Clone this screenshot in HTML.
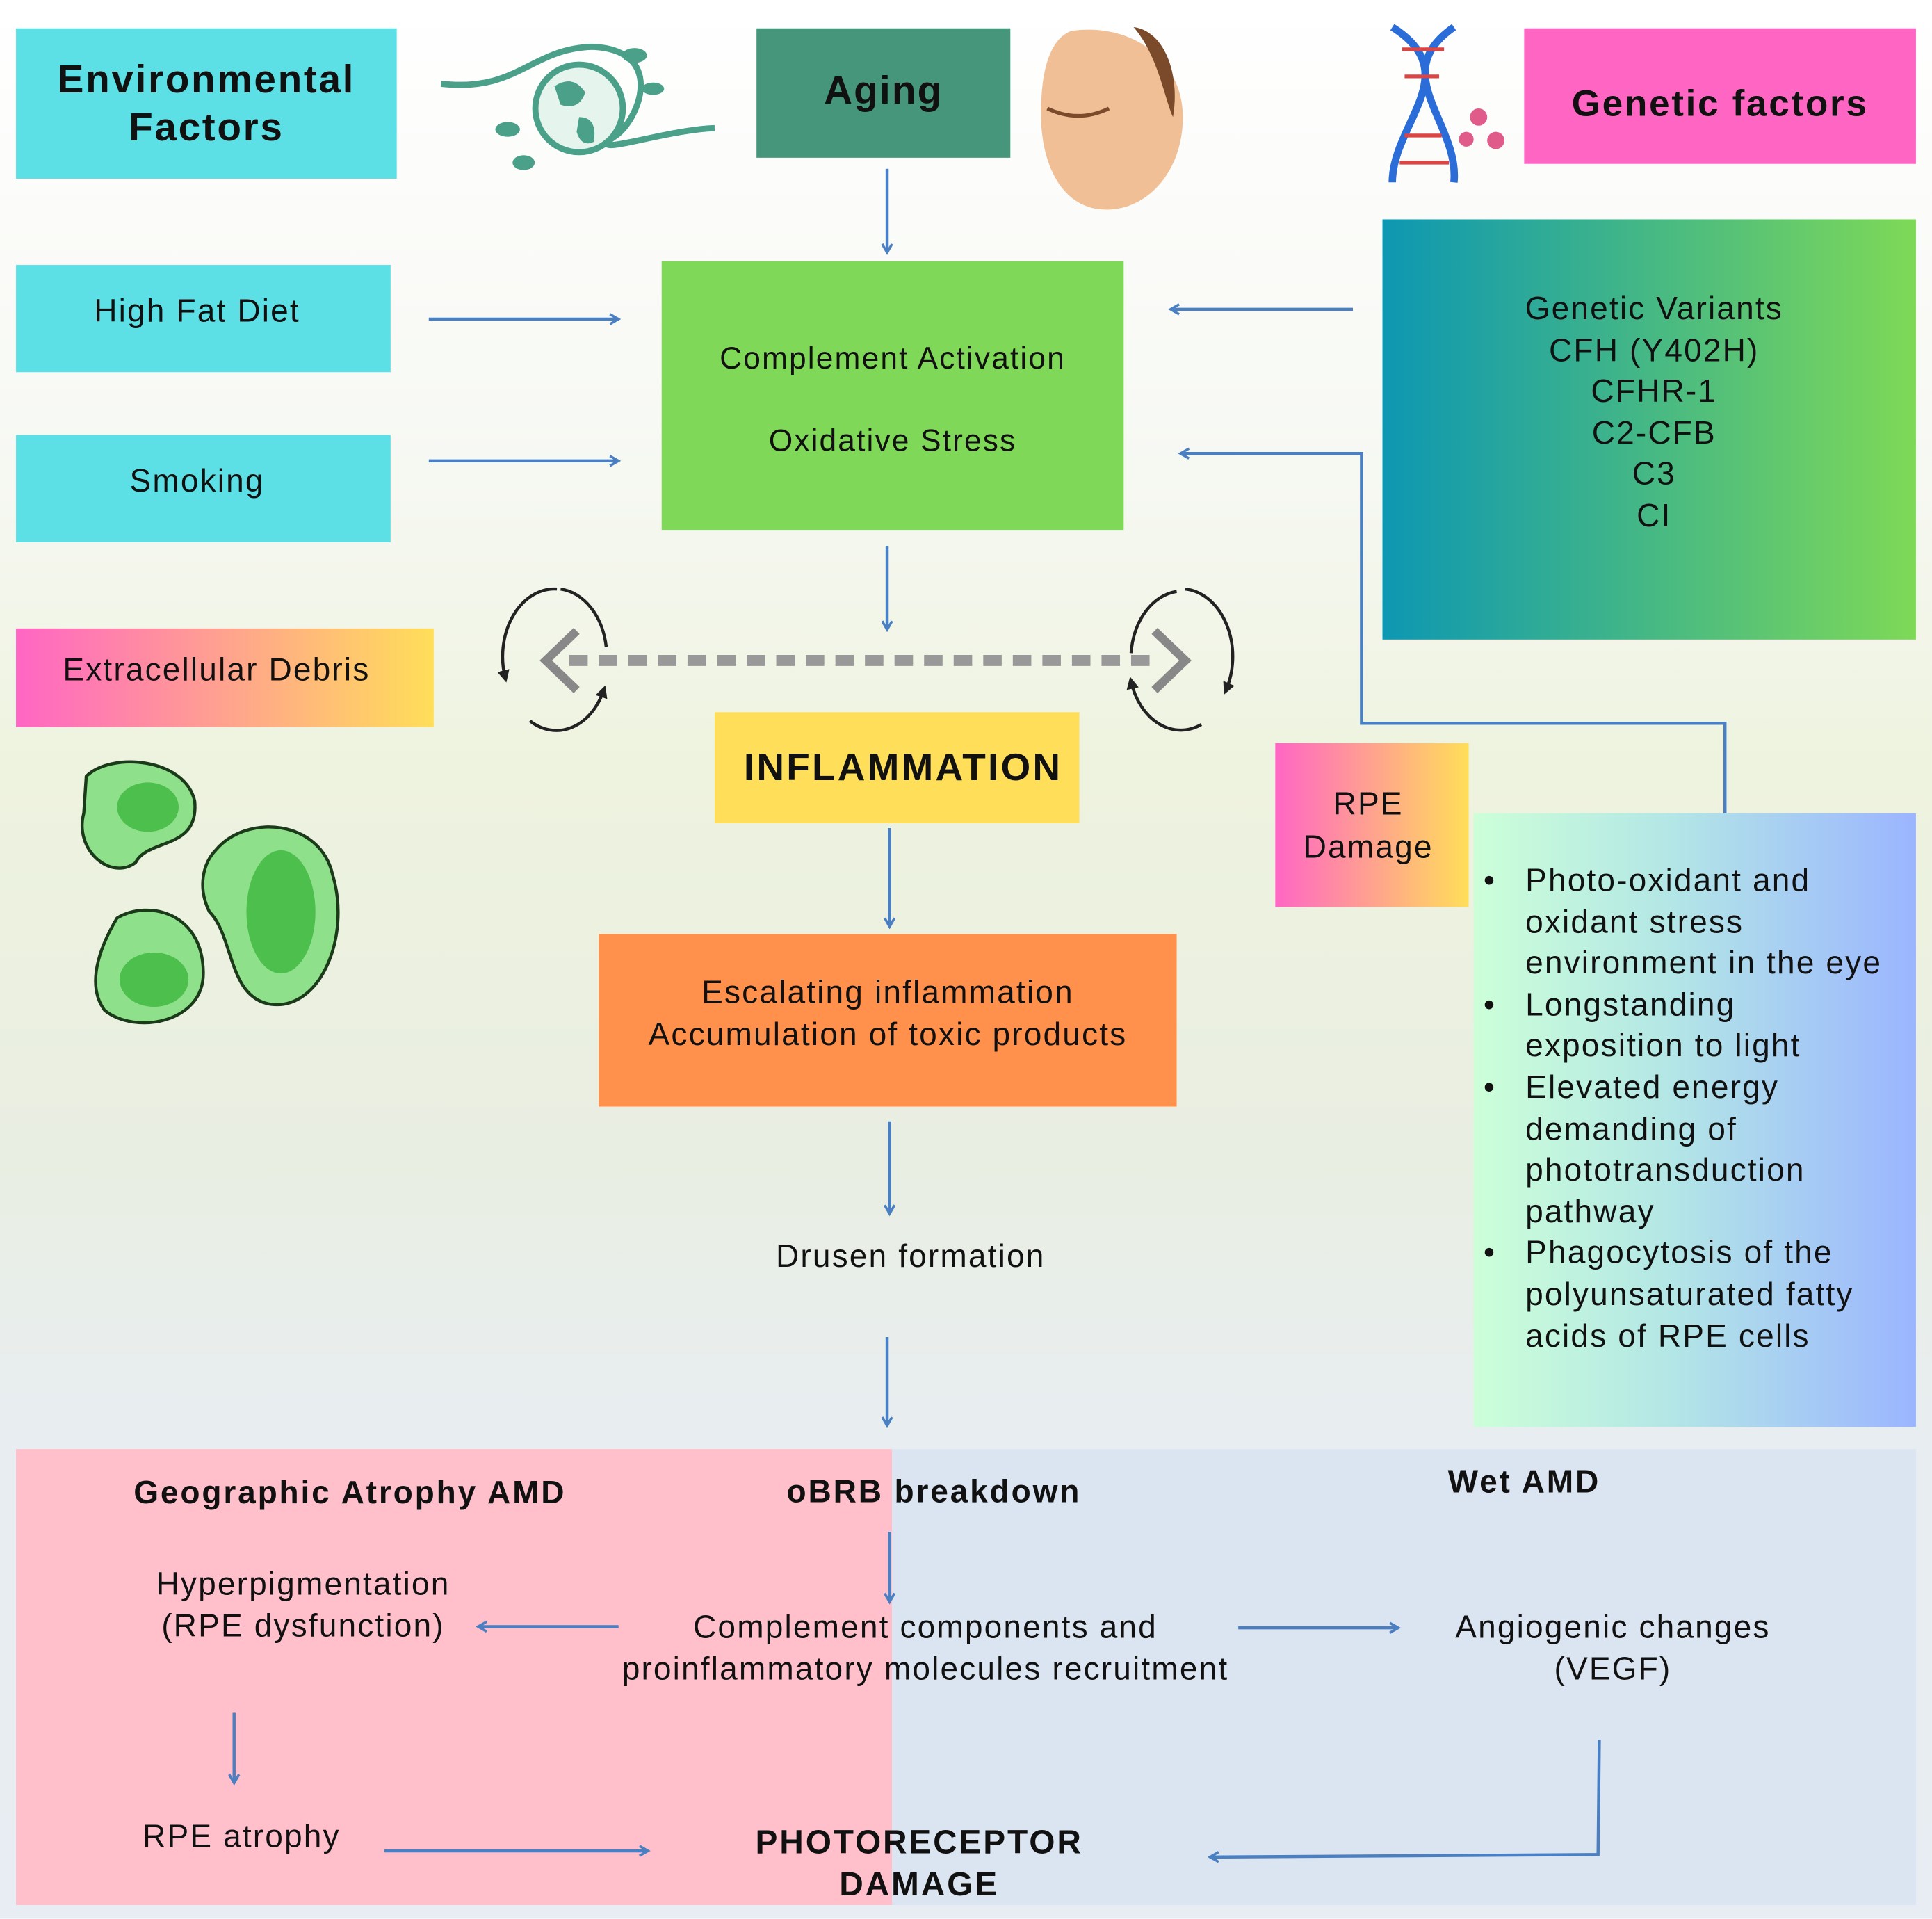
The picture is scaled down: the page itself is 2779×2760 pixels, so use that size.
<!DOCTYPE html>
<html><head><meta charset="utf-8"><style>
html,body{margin:0;padding:0;width:2779px;height:2760px;overflow:hidden;background:#fff}
#w{position:absolute;left:0;top:0;width:1568px;height:1557px;transform:scale(1.7723);transform-origin:0 0;
background:linear-gradient(180deg,#ffffff 0%,#f6f8f2 25%,#eef3df 40%,#e9eee2 60%,#e8edf1 75%,#e8edf3 100%);
font-family:"Liberation Sans",Arial,sans-serif;color:#111;letter-spacing:1.2px}
.b{position:absolute;display:flex;align-items:center;justify-content:center;text-align:center;box-sizing:border-box}
.t{position:absolute;text-align:center;white-space:nowrap;transform:translateX(-50%)}
.bd{font-weight:bold;letter-spacing:1.6px}
svg{position:absolute;left:0;top:0}
</style></head><body><div id="w">
<div style="position:absolute;left:13px;top:1176px;width:711px;height:370px;background:#ffbfcb"></div>
<div style="position:absolute;left:724px;top:1176px;width:831px;height:370px;background:#dbe4f1"></div>

<div class="b" style="left:13px;top:23px;width:309px;height:122px;background:#5ce0e6;font-weight:bold;font-size:32px;line-height:39px;letter-spacing:1.5px">Environmental<br>Factors</div>
<div class="b" style="left:614px;top:23px;width:206px;height:105px;background:#45967a;font-weight:bold;font-size:32px;padding-bottom:4px">Aging</div>
<div class="b" style="left:1237px;top:23px;width:318px;height:110px;background:#ff66c4;font-weight:bold;font-size:30px;padding-top:14px;letter-spacing:1.5px">Genetic factors</div>
<div class="b" style="left:13px;top:215px;width:304px;height:87px;background:#5ce0e6;font-size:26px;align-items:flex-start;padding-top:22px;padding-right:10px">High Fat Diet</div>
<div class="b" style="left:13px;top:353px;width:304px;height:87px;background:#5ce0e6;font-size:26px;align-items:flex-start;padding-top:22px;padding-right:10px">Smoking</div>
<div class="b" style="left:537px;top:212px;width:375px;height:218px;background:#80d858;font-size:25px;line-height:67px;padding-top:8px">Complement Activation<br>Oxidative Stress</div>
<div class="b" style="left:1122px;top:178px;width:433px;height:341px;background:linear-gradient(90deg,#0d97b2,#7ed957);font-size:26px;line-height:33.5px;align-items:flex-start;padding-top:56px;padding-left:8px">Genetic Variants<br>CFH (Y402H)<br>CFHR-1<br>C2-CFB<br>C3<br>CI</div>
<div class="b" style="left:13px;top:510px;width:339px;height:80px;background:linear-gradient(90deg,#ff66c4,#ffde59);font-size:26px;justify-content:flex-start;padding-left:38px;align-items:flex-start;padding-top:18px">Extracellular Debris</div>
<div class="b" style="left:580px;top:578px;width:296px;height:90px;background:#ffde59;font-weight:bold;font-size:31px;letter-spacing:1.8px;padding-left:10px">INFLAMMATION</div>
<div class="b" style="left:1035px;top:603px;width:157px;height:133px;background:linear-gradient(90deg,#ff66c4,#ffde59);font-size:26px;line-height:35px;padding-right:6px">RPE<br>Damage</div>
<div class="b" style="left:486px;top:758px;width:469px;height:140px;background:#ff914d;font-size:26px;line-height:34px;align-items:flex-start;padding-top:30px">Escalating inflammation<br>Accumulation of toxic products</div>
<div class="b" style="left:1196px;top:660px;width:359px;height:498px;background:linear-gradient(90deg,#ccffd8,#b3e6e6 45%,#9bb5ff);"></div>
<div style="position:absolute;left:1204px;top:698px;width:360px;font-size:26px;line-height:33.6px;white-space:nowrap">
<div style="position:relative;padding-left:34px"><span style="position:absolute;left:0">•</span>Photo-oxidant and<br>oxidant stress<br>environment in the eye</div>
<div style="position:relative;padding-left:34px"><span style="position:absolute;left:0">•</span>Longstanding<br>exposition to light</div>
<div style="position:relative;padding-left:34px"><span style="position:absolute;left:0">•</span>Elevated energy<br>demanding of<br>phototransduction<br>pathway</div>
<div style="position:relative;padding-left:34px"><span style="position:absolute;left:0">•</span>Phagocytosis of the<br>polyunsaturated fatty<br>acids of RPE cells</div>
</div>

<div class="t" style="left:739px;top:1004px;font-size:26px">Drusen formation</div>
<div class="t bd" style="left:284px;top:1196px;font-size:26px">Geographic Atrophy AMD</div>
<div class="t bd" style="left:758px;top:1195px;font-size:26px">oBRB breakdown</div>
<div class="t bd" style="left:1237px;top:1187px;font-size:26px">Wet AMD</div>
<div class="t" style="left:246px;top:1268px;font-size:26px;line-height:34px">Hyperpigmentation<br>(RPE dysfunction)</div>
<div class="t" style="left:751px;top:1303px;font-size:26px;line-height:34px">Complement components and<br>proinflammatory molecules recruitment</div>
<div class="t" style="left:1309px;top:1303px;font-size:26px;line-height:34px">Angiogenic changes<br>(VEGF)</div>
<div class="t" style="left:196px;top:1475px;font-size:26px">RPE atrophy</div>
<div class="t bd" style="left:746px;top:1478px;font-size:27px;line-height:34px">PHOTORECEPTOR<br>DAMAGE</div>

<svg width="1568" height="1557" viewBox="0 0 1568 1557">
<defs><marker id="a" markerWidth="10" markerHeight="10" refX="8" refY="5" orient="auto" markerUnits="userSpaceOnUse"><path d="M1,1 L8,5 L1,9" fill="none" stroke="#4a7fc1" stroke-width="2"/></marker>
<marker id="k" markerWidth="12" markerHeight="12" refX="6" refY="6" orient="auto" markerUnits="userSpaceOnUse"><path d="M0,1 L10,6 L0,11z" fill="#222"/></marker></defs>
<g stroke="#4a7fc1" stroke-width="2.5" fill="none" marker-end="url(#a)">
<line x1="720" y1="137" x2="720" y2="205"/>
<line x1="348" y1="259" x2="502" y2="259"/>
<line x1="348" y1="374" x2="502" y2="374"/>
<line x1="1098" y1="251" x2="950" y2="251"/>
<polyline points="1400,660 1400,587 1105,587 1105,368 958,368"/>
<line x1="720" y1="443" x2="720" y2="511"/>
<line x1="722" y1="672" x2="722" y2="752"/>
<line x1="722" y1="910" x2="722" y2="985"/>
<line x1="720" y1="1085" x2="720" y2="1157"/>
<line x1="722" y1="1243" x2="722" y2="1300"/>
<line x1="502" y1="1320" x2="388" y2="1320"/>
<line x1="1005" y1="1321" x2="1135" y2="1321"/>
<line x1="190" y1="1390" x2="190" y2="1447"/>
<line x1="312" y1="1502" x2="526" y2="1502"/>
<polyline points="1298,1412 1297,1505 982,1507"/>
</g>
<line x1="462" y1="536" x2="942" y2="536" stroke="#999" stroke-width="9" stroke-dasharray="15,9"/>
<g fill="none" stroke="#888" stroke-width="7"><polyline points="468,512 443,536 468,560"/><polyline points="937,512 962,536 937,560"/></g>
<g fill="none" stroke="#222" stroke-width="2.5">
<path d="M452,478 A42,55 0 0 0 410,550" marker-end="url(#k)"/>
<path d="M430,585 A42,55 0 0 0 490,560" marker-end="url(#k)"/>
<path d="M455,478 A42,55 0 0 1 492,525"/>
<path d="M962,478 A42,55 0 0 1 995,560" marker-end="url(#k)"/>
<path d="M975,588 A42,55 0 0 1 918,553" marker-end="url(#k)"/>
<path d="M955,480 A42,55 0 0 0 918,530"/>
</g>
<!-- globe -->
<path d="M358,68 C420,75 430,40 480,38 C540,40 520,95 500,110 C470,130 540,105 580,104" fill="none" stroke="#4aa089" stroke-width="5"/>
<circle cx="470" cy="88" r="38" fill="#4aa089"/><circle cx="470" cy="88" r="33" fill="#e6f4ee"/>
<path d="M450,70 q15,-10 25,5 q-5,15 -20,10 z M470,95 q15,0 12,20 q-10,5 -14,-8z" fill="#4aa089"/>
<g fill="#4aa089"><ellipse cx="515" cy="45" rx="10" ry="6"/><ellipse cx="412" cy="105" rx="10" ry="6"/><ellipse cx="425" cy="132" rx="9" ry="6"/><ellipse cx="530" cy="72" rx="9" ry="5"/></g>
<!-- face -->
<path d="M870,25 C920,18 960,50 960,95 C960,140 930,172 895,170 C860,168 843,130 845,85 C846,50 855,30 870,25z" fill="#f0bf96"/>
<path d="M920,22 C945,25 958,60 952,95 C945,80 940,45 920,22z" fill="#7a4a2a"/>
<path d="M850,88 q25,12 50,0" fill="none" stroke="#7a4a2a" stroke-width="3"/>
<!-- dna -->
<g stroke="#2a6dd8" stroke-width="6" fill="none"><path d="M1130,22 C1190,60 1130,100 1130,148"/><path d="M1180,22 C1125,60 1185,100 1180,148"/></g>
<g stroke="#d44" stroke-width="3"><line x1="1138" y1="40" x2="1172" y2="40"/><line x1="1140" y1="62" x2="1168" y2="62"/><line x1="1140" y1="110" x2="1170" y2="110"/><line x1="1136" y1="132" x2="1176" y2="132"/></g>
<g fill="#e05a8a"><circle cx="1200" cy="95" r="7"/><circle cx="1190" cy="113" r="6"/><circle cx="1214" cy="114" r="7"/></g>
<!-- cells -->
<g fill="#8ee08a" stroke="#1a3a1a" stroke-width="2.5">
<path d="M70,630 C90,610 150,615 158,650 C162,690 120,680 110,700 C90,715 60,690 68,660z"/>
<path d="M175,690 C200,660 260,665 270,710 C285,760 260,820 220,815 C185,810 190,760 170,740 C160,720 165,700 175,690z"/>
<path d="M95,745 C120,730 165,740 165,790 C165,830 110,840 85,820 C70,800 80,770 95,745z"/>
</g>
<g fill="#4cbf4c"><ellipse cx="120" cy="655" rx="25" ry="20"/><ellipse cx="228" cy="740" rx="28" ry="50"/><ellipse cx="125" cy="795" rx="28" ry="22"/></g>
</svg>
</div></body></html>
